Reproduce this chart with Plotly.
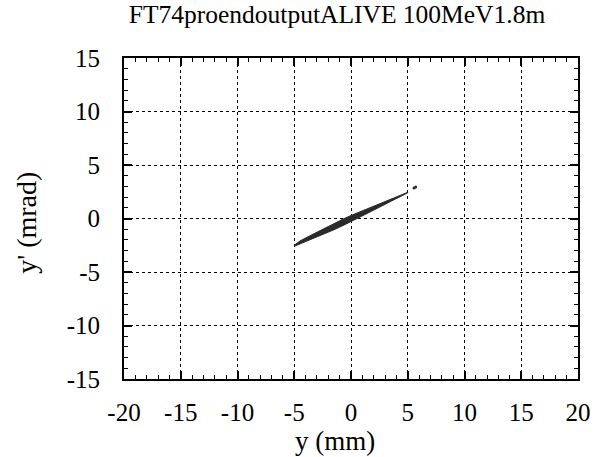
import plotly.graph_objects as go

# Beam outline (y in mm, y' in mrad), traced around the particle cloud
outline_y = [-5.0, -4.5, -3.5, -2.5, -1.5, -0.5, 0.5, 1.5, 2.5, 3.5, 4.5, 5.0,
             5.0, 4.5, 3.5, 2.5, 1.5, 0.5, -0.5, -1.5, -2.5, -3.5, -4.5, -5.0, -5.0]
outline_yp = [-2.5, -2.1, -1.55, -1.0, -0.45, 0.05, 0.5, 0.95, 1.4, 1.85, 2.3, 2.45,
              2.4, 2.15, 1.6, 1.05, 0.5, 0.0, -0.55, -1.05, -1.5, -1.95, -2.35, -2.6, -2.5]
# Stray particles
stray_y = [5.7, 5.55]
stray_yp = [2.95, 2.85]

x_ticks = [-20, -15, -10, -5, 0, 5, 10, 15, 20]
y_ticks = [-15, -10, -5, 0, 5, 10, 15]

FONT = "Liberation Serif, Times New Roman, serif"

fig = go.Figure()
fig.add_trace(go.Scatter(x=outline_y, y=outline_yp, mode="lines", fill="toself",
                         fillcolor="#2a2a2a", line=dict(color="#2a2a2a", width=1),
                         hoverinfo="skip", showlegend=False))
fig.add_trace(go.Scatter(x=stray_y, y=stray_yp, mode="markers",
                         marker=dict(color="#2a2a2a", size=3), showlegend=False))

axis_common = dict(
    showline=True, linecolor="black", linewidth=2, mirror="ticks",
    ticks="inside", ticklen=8, tickwidth=1.5, tickcolor="black",
    showgrid=True, gridcolor="black", griddash="dot", gridwidth=1,
    zeroline=False,
    tickfont=dict(family=FONT, size=25, color="black"),
    minor=dict(ticks="inside", ticklen=4, tickwidth=1.2, tickcolor="black", dtick=1, showgrid=False),
)

fig.update_xaxes(range=[-20, 20], tickvals=x_ticks, ticktext=[str(v) for v in x_ticks],
                 ticklabelstandoff=10, **axis_common)
fig.update_yaxes(range=[-15, 15], tickvals=y_ticks, ticktext=[str(v) for v in y_ticks],
                 ticklabelstandoff=17, **axis_common)

fig.update_layout(
    width=603, height=457,
    margin=dict(l=124, r=21, t=58, b=78),
    paper_bgcolor="white", plot_bgcolor="white",
    title=dict(text="FT74proendoutputALIVE 100MeV1.8m", x=337 / 603, xanchor="center",
               y=1 - 14.5 / 457, yanchor="middle",
               font=dict(family=FONT, size=25.5, color="black")),
    annotations=[
        dict(text="y (mm)", xref="paper", yref="paper", x=(337 - 124) / 458, y=-(441 - 379) / 321,
             xanchor="center", yanchor="middle", showarrow=False,
             font=dict(family=FONT, size=27, color="black")),
        dict(text="y' (mrad)", xref="paper", yref="paper", x=-(124 - 26) / 458, y=(379 - 223) / 321,
             xanchor="center", yanchor="middle", showarrow=False, textangle=-90,
             font=dict(family=FONT, size=28, color="black")),
    ],
)

fig.write_html("out.html")
